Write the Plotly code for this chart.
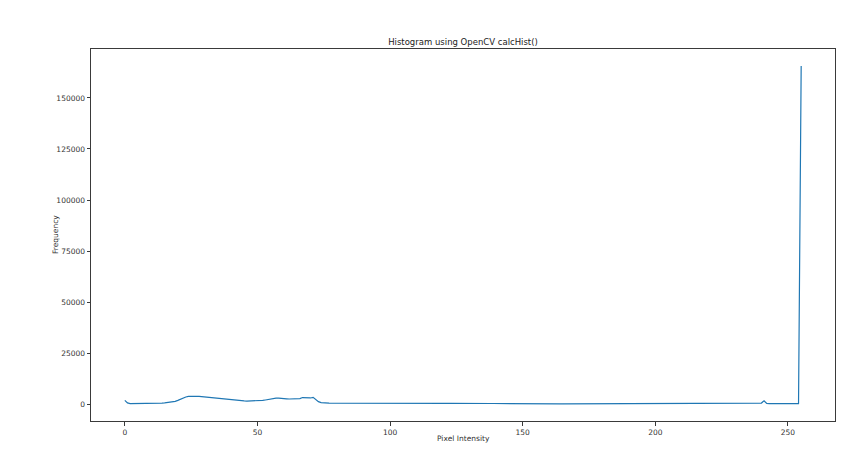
import plotly.graph_objects as go

# Pixel intensity bins 0..255
intensity = list(range(256))

# Frequencies (16 bins per row)
frequency = [
    1800, 600, 250, 240, 250, 260, 270, 280, 300, 320, 340, 370, 400, 440, 500, 580,
    700, 850, 1050, 1350, 1800, 2400, 3000, 3500, 3800, 3900, 3900, 3850, 3750, 3600, 3450, 3300,
    3150, 3000, 2850, 2700, 2550, 2400, 2250, 2100, 1950, 1850, 1750, 1650, 1600, 1550, 1500, 1500,
    1500, 1520, 1550, 1650, 1800, 2000, 2300, 2600, 2800, 2900, 2950, 2950, 2900, 2600, 2500, 2550,
    2600, 2600, 2700, 3200, 3100, 3100, 3000, 3300, 2200, 1200, 700, 500, 450, 430, 420, 410,
    400, 400, 390, 390, 380, 380, 370, 370, 360, 360, 350, 350, 340, 340, 330, 330,
    320, 320, 310, 310, 300, 300, 300, 290, 290, 280, 280, 280, 270, 270, 270, 260,
    260, 260, 260, 250, 250, 260, 270, 280, 300, 320, 340, 360, 380, 400, 420, 440,
    450, 460, 460, 450, 440, 420, 400, 380, 350, 320, 300, 280, 260, 240, 230, 220,
    210, 200, 200, 190, 190, 180, 180, 180, 170, 170, 170, 170, 160, 160, 160, 160,
    160, 150, 150, 150, 150, 150, 150, 150, 150, 150, 150, 150, 150, 150, 150, 150,
    150, 150, 150, 150, 150, 150, 150, 150, 150, 150, 150, 150, 150, 150, 150, 150,
    150, 150, 150, 150, 150, 150, 150, 150, 150, 150, 150, 150, 150, 150, 150, 150,
    150, 150, 150, 150, 150, 150, 150, 150, 150, 150, 150, 150, 150, 150, 150, 150,
    150, 150, 150, 150, 150, 150, 150, 150, 150, 150, 150, 150, 160, 170, 200, 250,
    500, 1600, 300, 200, 180, 170, 160, 160, 150, 150, 150, 150, 150, 160, 200, 165700,
]

x_ticks = [0, 50, 100, 150, 200, 250]
y_ticks = [0, 25000, 50000, 75000, 100000, 125000, 150000]

axis_col = "#3a3a3a"
font = dict(family="DejaVu Sans", size=7.5, color="#333333")

fig = go.Figure(go.Scatter(
    x=intensity,
    y=frequency,
    mode="lines",
    line=dict(color="#1f77b4", width=1.2),
    hoverinfo="skip",
))

common = dict(
    showline=True, mirror=True, linecolor=axis_col, linewidth=1,
    ticks="outside", ticklen=3.5, tickwidth=1, tickcolor=axis_col,
    showgrid=False, zeroline=False, tickfont=font,
)
fig.update_xaxes(range=[-12.75, 267.75], tickvals=x_ticks, **common)
fig.update_yaxes(range=[-8285, 173985], tickvals=y_ticks, tickformat="d", **common)

# axis labels placed as annotations so they sit where matplotlib puts them
fig.add_annotation(text="Pixel Intensity", xref="paper", yref="paper", x=0.5, y=0,
                   yshift=-17, yanchor="middle", showarrow=False, font=font)
fig.add_annotation(text="Frequency", xref="paper", yref="paper", x=0, y=0.5,
                   xshift=-36, xanchor="center", textangle=-90, showarrow=False, font=font)

# page body has an 8px margin, so the figure is shrunk and shifted to fit
fig.update_layout(
    width=847, height=443,
    margin=dict(l=83, r=20, t=41, b=30),
    plot_bgcolor="white", paper_bgcolor="white",
    showlegend=False,
    title=dict(text="Histogram using OpenCV calcHist()", x=0.5, xref="paper",
               y=1 - 34 / 443, yref="container", yanchor="middle",
               font=dict(family="DejaVu Sans", size=8.5, color="#222222")),
)

fig.write_html("out.html")
